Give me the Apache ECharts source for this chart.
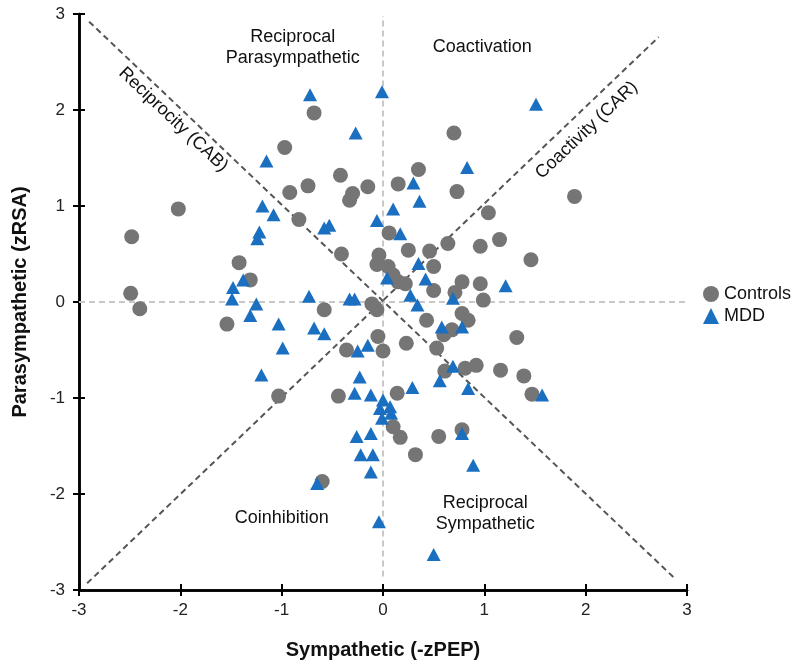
<!DOCTYPE html>
<html><head><meta charset="utf-8">
<script src="https://cdn.jsdelivr.net/npm/echarts@6/dist/echarts.min.js"></script>
<style>html,body{margin:0;padding:0;background:#fff}#c{width:800px;height:668px}</style>
</head><body><div id="c"></div>
<script>
const xTicks = [-3,-2,-1,0,1,2,3];
const yTicks = [-3,-2,-1,0,1,2,3];
const seriesNames = ['Controls','MDD'];
const controls = [
[-0.68,1.97],[-0.97,1.61],[-0.42,1.32],[-0.74,1.21],[-0.92,1.14],[-0.30,1.13],[-0.15,1.20],[-0.33,1.06],
[-2.02,0.97],[-2.48,0.68],[-0.83,0.86],[-0.41,0.50],[-1.42,0.41],[-1.31,0.23],[-0.04,0.49],[-0.06,0.39],
[0.06,0.72],[-2.49,0.09],[-2.40,-0.07],[-0.11,-0.02],[-0.06,-0.08],[-0.58,-0.08],[-1.54,-0.23],[-1.03,-0.98],
[-0.05,-0.36],[-0.36,-0.50],[0.00,-0.51],[-0.44,-0.98],[0.10,-1.30],[-0.60,-1.87],[0.70,1.76],[0.35,1.38],
[0.15,1.23],[0.73,1.15],[1.89,1.10],[1.04,0.93],[0.64,0.61],[0.96,0.58],[1.15,0.65],[0.25,0.54],
[0.46,0.53],[1.46,0.44],[0.05,0.37],[0.50,0.37],[0.10,0.28],[0.15,0.21],[0.22,0.19],[0.78,0.21],
[0.96,0.19],[0.50,0.12],[0.71,0.10],[0.99,0.02],[0.43,-0.19],[0.78,-0.12],[0.84,-0.19],[0.68,-0.29],
[0.60,-0.34],[0.23,-0.43],[0.53,-0.48],[1.32,-0.37],[0.61,-0.72],[0.81,-0.69],[0.92,-0.66],[1.16,-0.71],
[1.39,-0.77],[1.47,-0.96],[0.14,-0.95],[0.17,-1.41],[0.55,-1.40],[0.78,-1.33],[0.32,-1.59]
];
const mdd = [
[-0.72,2.16],[-0.01,2.19],[-0.27,1.76],[-1.15,1.47],[-1.19,1.00],[-1.08,0.91],[-0.58,0.77],[-0.53,0.80],
[-1.22,0.73],[-1.24,0.66],[-0.06,0.85],[-1.38,0.23],[-1.48,0.15],[-1.49,0.03],[-1.25,-0.02],[-0.73,0.06],
[-0.33,0.03],[-0.28,0.03],[-1.31,-0.14],[-1.03,-0.23],[-0.99,-0.48],[-1.20,-0.76],[-0.68,-0.27],[-0.58,-0.33],
[-0.25,-0.51],[-0.15,-0.45],[-0.23,-0.78],[-0.28,-0.95],[-0.12,-0.97],[0.00,-1.02],[-0.03,-1.11],[0.07,-1.09],
[-0.01,-1.21],[0.08,-1.16],[-0.26,-1.40],[-0.12,-1.37],[-0.22,-1.59],[-0.10,-1.59],[-0.12,-1.77],[-0.65,-1.89],
[-0.04,-2.29],[1.51,2.06],[0.83,1.40],[0.30,1.24],[0.36,1.05],[0.10,0.97],[0.17,0.71],[0.35,0.40],
[0.04,0.25],[0.42,0.24],[1.21,0.17],[0.27,0.07],[0.34,-0.03],[0.69,0.04],[0.58,-0.26],[0.78,-0.26],
[0.69,-0.67],[0.56,-0.82],[0.29,-0.89],[0.84,-0.90],[1.57,-0.97],[0.78,-1.37],[0.89,-1.70],[0.50,-2.63]
];
// reference lines (data coordinates of endpoints)
const zeroV = [[0,-2.86],[0,2.98]];
const zeroH = [[-3,0],[2.98,0]];
const cabLine = [[-2.90,2.92],[2.89,-2.89]];
const carLine = [[-2.92,-2.93],[2.72,2.76]];
// annotation texts with anchor data coordinates
const regionLabels = [
  {text:'Reciprocal\nParasympathetic', at:[-0.89,2.65]},
  {text:'Coactivation', at:[0.98,2.66]},
  {text:'Coinhibition', at:[-1.0,-2.25]},
  {text:'Reciprocal\nSympathetic', at:[1.01,-2.2]}
];
const lineLabels = [
  {text:'Reciprocity (CAB)', at:[-2.07,1.90], rot:-1},
  {text:'Coactivity (CAR)', at:[2.01,1.79], rot:1}
];

const FONT = 'Liberation Sans, Arial, sans-serif';
const chart = echarts.init(document.getElementById('c'));
const axisBase = {
  type:'value', min:-3, max:3, interval:1,
  splitLine:{show:false},
  axisLine:{show:true, onZero:false, lineStyle:{color:'#000', width:2.5}},
};
const lineSeries = (d, color, dash) => ({
  type:'line', data:d, symbol:'none', silent:true, z:1,
  lineStyle:{color:color, width:2, type:dash}, xAxisIndex:0, yAxisIndex:0
});
chart.setOption({
  animation:false,
  grid:{left:79, right:113, top:14, bottom:78},
  legend:{
    data:seriesNames, orient:'vertical', left:698, top:280, itemGap:4,
    itemWidth:16, itemHeight:16,
    textStyle:{fontFamily:FONT, fontSize:18, color:'#111'}
  },
  xAxis:[
    Object.assign({}, axisBase, {
      name:'Sympathetic (-zPEP)', nameLocation:'middle', nameGap:50,
      nameTextStyle:{fontFamily:FONT, fontSize:20, fontWeight:'bold', color:'#111'},
      axisTick:{show:true, inside:false, length:6, lineStyle:{color:'#000', width:2}},
      axisLabel:{fontFamily:FONT, fontSize:17, color:'#222', margin:12}
    }),
    Object.assign({}, axisBase, {
      axisTick:{show:true, inside:true, length:6, lineStyle:{color:'#000', width:2}},
      axisLabel:{show:false}, position:'bottom'
    })
  ],
  yAxis:[
    Object.assign({}, axisBase, {
      name:'Parasympathetic (zRSA)', nameLocation:'middle', nameGap:49,
      nameTextStyle:{fontFamily:FONT, fontSize:20, fontWeight:'bold', color:'#111'},
      axisTick:{show:true, inside:false, length:6, lineStyle:{color:'#000', width:2}},
      axisLabel:{fontFamily:FONT, fontSize:17, color:'#222', margin:14}
    }),
    Object.assign({}, axisBase, {
      axisTick:{show:true, inside:true, length:6, lineStyle:{color:'#000', width:2}},
      axisLabel:{show:false}, position:'left'
    })
  ],
  series:[
    lineSeries(zeroV, '#c8c8c8', [6,4]),
    lineSeries(zeroH, '#c8c8c8', [6,4]),
    lineSeries(cabLine, '#555', [6,4]),
    lineSeries(carLine, '#555', [6,4]),
    {name:'Controls', type:'scatter', data:controls, symbol:'circle', symbolSize:15, z:3,
     itemStyle:{color:'#757575', opacity:1}},
    {name:'MDD', type:'scatter', data:mdd, symbol:'triangle', symbolSize:[14,13], z:4,
     itemStyle:{color:'#1a6fc0', opacity:1}}
  ]
});
const ang = Math.atan(96/101.3);
const g = [];
regionLabels.forEach(l => {
  const p = chart.convertToPixel({xAxisIndex:0, yAxisIndex:0}, l.at);
  g.push({type:'text', x:p[0], y:p[1], z:10, style:{text:l.text, fontFamily:FONT, fontSize:18, fill:'#111',
    align:'center', verticalAlign:'middle', lineHeight:21}});
});
lineLabels.forEach(l => {
  const p = chart.convertToPixel({xAxisIndex:0, yAxisIndex:0}, l.at);
  g.push({type:'text', x:p[0], y:p[1], rotation:l.rot*ang, z:10, style:{text:l.text, fontFamily:FONT, fontSize:18, fill:'#111',
    align:'center', verticalAlign:'middle'}});
});
chart.setOption({graphic:g});
</script></body></html>
